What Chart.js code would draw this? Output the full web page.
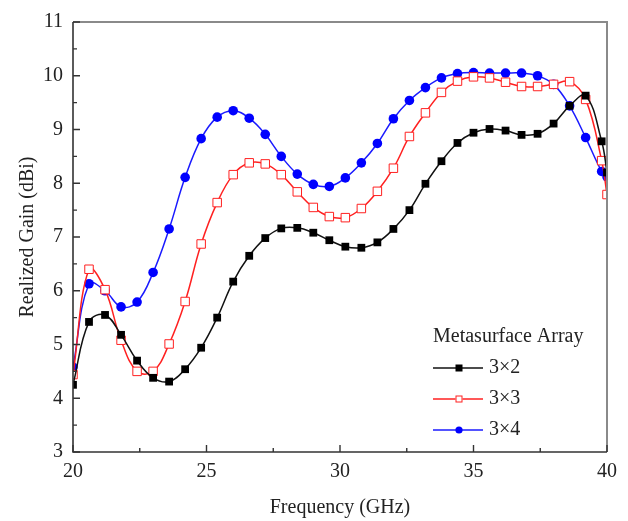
<!DOCTYPE html>
<html>
<head>
<meta charset="utf-8">
<script src="https://cdn.jsdelivr.net/npm/chart.js@4.4.1/dist/chart.umd.min.js"></script>
<style>
  html, body { margin: 0; padding: 0; background: #fff; }
  #wrap { width: 628px; height: 521px; position: relative; }
</style>
</head>
<body>
<div id="wrap"><canvas id="gainChart"></canvas></div>
<script>
// frequency points (GHz) where the markers sit
const freqs = [20, 20.6, 21.2, 21.8, 22.4, 23, 23.6, 24.2, 24.8, 25.4, 26, 26.6, 27.2, 27.8,
    28.4, 29, 29.6, 30.2, 30.8, 31.4, 32, 32.6, 33.2, 33.8, 34.4, 35, 35.6, 36.2, 36.8, 37.4,
    38, 38.6, 39.2, 39.8, 40];

// realized gain (dBi)
const gain3x2 = [4.25, 5.42, 5.55, 5.18, 4.70, 4.38, 4.31, 4.54, 4.94, 5.50, 6.17, 6.65, 6.98, 7.16,
    7.17, 7.08, 6.94, 6.82, 6.80, 6.90, 7.15, 7.50, 7.99, 8.41, 8.75, 8.94, 9.01, 8.98, 8.90, 8.92,
    9.11, 9.44, 9.63, 8.78, 8.20];
const gain3x3 = [4.44, 6.40, 6.02, 5.08, 4.50, 4.50, 5.01, 5.80, 6.87, 7.64, 8.16, 8.38, 8.36, 8.16,
    7.84, 7.55, 7.38, 7.36, 7.53, 7.85, 8.28, 8.87, 9.31, 9.69, 9.90, 9.98, 9.96, 9.88, 9.80, 9.80,
    9.84, 9.89, 9.56, 8.42, 7.79];
const gain3x4 = [4.58, 6.13, 6.00, 5.70, 5.79, 6.34, 7.15, 8.11, 8.83, 9.23, 9.35, 9.21, 8.91, 8.50,
    8.17, 7.98, 7.94, 8.10, 8.38, 8.74, 9.20, 9.54, 9.78, 9.96, 10.04, 10.06, 10.05, 10.05, 10.05, 10.00,
    9.84, 9.44, 8.85, 8.22, 8.12];

const seriesLabels = ['3\u00d72', '3\u00d73', '3\u00d74'];
const legendTitle = 'Metasurface Array';

// axis ticks
const xMajorTicks = [20, 25, 30, 35, 40];
const xMinorTicks = [22.5, 27.5, 32.5, 37.5];
const yMajorTicks = [3, 4, 5, 6, 7, 8, 9, 10, 11];
const yMinorTicks = [3.5, 4.5, 5.5, 6.5, 7.5, 8.5, 9.5, 10.5];

const FONT = '"Liberation Serif", "Times New Roman", serif';
const TEXT = '#222';

const toPoints = ys => freqs.map((f, i) => ({ x: f, y: ys[i] }));

const styles = [
    { color: '#111', pointStyle: 'rect', radius: 5.5, fill: '#000' },
    { color: '#ff2020', pointStyle: 'rect', radius: 6, fill: '#fff' },
    { color: '#1a1aff', pointStyle: 'circle', radius: 4.8, fill: '#0000ff' }
];

const datasets = [gain3x2, gain3x3, gain3x4].map((ys, i) => ({
    label: seriesLabels[i],
    data: toPoints(ys),
    borderColor: styles[i].color,
    borderWidth: 1.5,
    tension: 0.4,
    pointStyle: styles[i].pointStyle,
    pointRadius: styles[i].radius,
    pointHoverRadius: styles[i].radius,
    pointBackgroundColor: styles[i].fill,
    pointBorderColor: i === 1 ? '#ff2020' : styles[i].fill,
    pointBorderWidth: i === 1 ? 1 : 0
}));

// inward ticks, frame and the legend block
const framePlugin = {
    id: 'framePlugin',
    afterDraw(chart) {
        const { ctx, chartArea: a, scales: { x, y } } = chart;
        ctx.save();

        // top and right border (grey)
        ctx.strokeStyle = '#8a8a8a';
        ctx.lineWidth = 2;
        ctx.beginPath();
        ctx.moveTo(a.left, a.top);
        ctx.lineTo(a.right, a.top);
        ctx.lineTo(a.right, a.bottom);
        ctx.stroke();

        // left and bottom axis
        ctx.strokeStyle = '#333';
        ctx.lineWidth = 1.6;
        ctx.beginPath();
        ctx.moveTo(a.left, a.top);
        ctx.lineTo(a.left, a.bottom);
        ctx.lineTo(a.right, a.bottom);
        ctx.stroke();

        ctx.lineWidth = 1.4;
        ctx.beginPath();
        xMajorTicks.forEach(v => { const px = x.getPixelForValue(v); ctx.moveTo(px, a.bottom); ctx.lineTo(px, a.bottom - 7); });
        xMinorTicks.forEach(v => { const px = x.getPixelForValue(v); ctx.moveTo(px, a.bottom); ctx.lineTo(px, a.bottom - 4); });
        yMajorTicks.forEach(v => { const py = y.getPixelForValue(v); ctx.moveTo(a.left, py); ctx.lineTo(a.left + 7, py); });
        yMinorTicks.forEach(v => { const py = y.getPixelForValue(v); ctx.moveTo(a.left, py); ctx.lineTo(a.left + 4, py); });
        ctx.stroke();

        // legend
        const lx = a.right - 174;
        let ly = a.top + 315;
        ctx.fillStyle = TEXT;
        ctx.font = '20px ' + FONT;
        ctx.textBaseline = 'middle';
        ctx.textAlign = 'left';
        ctx.fillText(legendTitle, lx, ly);
        chart.data.datasets.forEach((ds, i) => {
            ly += 31;
            ctx.strokeStyle = ds.borderColor;
            ctx.lineWidth = 1.4;
            ctx.beginPath();
            ctx.moveTo(lx, ly);
            ctx.lineTo(lx + 50, ly);
            ctx.stroke();
            ctx.fillStyle = ds.pointBackgroundColor;
            ctx.strokeStyle = ds.pointBorderColor;
            ctx.lineWidth = 1;
            if (ds.pointStyle === 'circle') {
                ctx.beginPath();
                ctx.arc(lx + 26, ly, 3.6, 0, Math.PI * 2);
                ctx.fill();
            } else {
                ctx.fillRect(lx + 22.5, ly - 3.5, 7, 7);
                if (ds.pointBorderWidth) ctx.strokeRect(lx + 23, ly - 3, 6, 6);
            }
            ctx.fillStyle = TEXT;
            ctx.fillText(ds.label, lx + 56, ly);
        });
        ctx.restore();
    }
};

new Chart(document.getElementById('gainChart'), {
    type: 'line',
    data: { datasets },
    options: {
        responsive: true,
        maintainAspectRatio: false,
        animation: false,
        layout: { padding: { left: 0, right: 21, top: 16, bottom: 0 } },
        plugins: {
            legend: { display: false },
            tooltip: { enabled: false }
        },
        scales: {
            x: {
                type: 'linear',
                min: 20,
                max: 40,
                afterFit(scale) { scale.height = 69; },
                afterBuildTicks(scale) { scale.ticks = xMajorTicks.map(v => ({ value: v })); },
                grid: { display: false, drawTicks: false },
                border: { display: false },
                ticks: { padding: 8, color: TEXT, font: { family: FONT, size: 20 }, maxRotation: 0 },
                title: { display: true, text: 'Frequency (GHz)', color: TEXT,
                    font: { family: FONT, size: 20 }, padding: { top: 0, bottom: 1 } }
            },
            y: {
                min: 3,
                max: 11,
                afterFit(scale) { scale.width = 73; },
                afterBuildTicks(scale) { scale.ticks = yMajorTicks.map(v => ({ value: v })); },
                grid: { display: false, drawTicks: false },
                border: { display: false },
                ticks: { padding: 10, color: TEXT, font: { family: FONT, size: 20 } },
                title: { display: true, text: 'Realized Gain (dBi)', color: TEXT,
                    font: { family: FONT, size: 20 }, padding: { top: 16, bottom: 0 } }
            }
        }
    },
    plugins: [framePlugin]
});
</script>
</body>
</html>
